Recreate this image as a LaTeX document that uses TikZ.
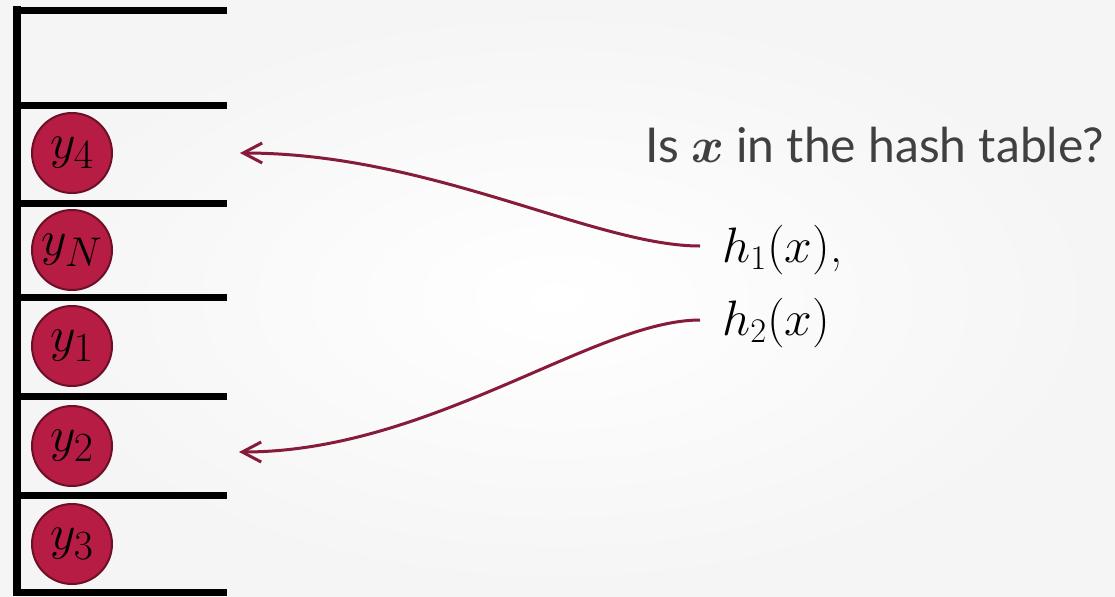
\documentclass[tikz,border=0pt]{standalone}
\usepackage{amsmath,bm}
\usepackage{fontspec}
\setsansfont{Lato}
\usetikzlibrary{arrows.meta}
\definecolor{cellfill}{HTML}{B71C45}
\definecolor{celledge}{HTML}{6B1027}
\definecolor{arrowc}{HTML}{861B3A}
\definecolor{txtgray}{HTML}{404040}
\begin{document}
\begin{tikzpicture}[x=0.5pt,y=-0.5pt,
  shelf/.style={line width=3.5pt, black},
  item/.style={circle, minimum size=40pt, inner sep=0pt, fill=cellfill, draw=celledge, line width=1pt,
    font=\fontsize{28}{30}\selectfont},
  hlabel/.style={anchor=base west, inner sep=0pt, font=\fontsize{24}{28}\selectfont},
  ptr/.style={arrowc, line width=1.5pt, -{Straight Barb[length=9.5pt,width=10pt,line width=1.5pt]}}]
\shade[inner color=white, outer color=black!4] (0,0) rectangle (1115,596);
\useasboundingbox (0,0) rectangle (1115,596);
% table
\draw[line width=4pt, black] (17,6) -- (17,596);
\foreach \yy in {10.5,105.5,203,297,396.5,495.5,592}
  \draw[shelf] (13,\yy) -- (227,\yy);
% items
\node[item] (y4) at (72,153) {$y_4$};
\node[item] (yN) at (72,250) {$y_N$};
\node[item] (y1) at (72,346) {$y_1$};
\node[item] (y2) at (72,446) {$y_2$};
\node[item] (y3) at (72,544) {$y_3$};
% question
\node[anchor=base west, inner sep=0pt, text=txtgray, font=\sffamily\fontsize{24}{28}\selectfont]
  (q) at (645,162) {Is $\bm{x}$ in the hash table?};
% hash labels
\node[hlabel] (h1) at (722,262) {$h_1(x)$,};
\node[hlabel] (h2) at (722,335) {$h_2(x)$};
% pointer ends
\coordinate (s1) at (700,246);
\coordinate (s2) at (700,320);
\coordinate (t1) at (240,153);
\coordinate (t2) at (239,452);
\draw[ptr] (s1) .. controls (595,246) and (430,153) .. (t1);
\draw[ptr] (s2) .. controls (595,320) and (430,452) .. (t2);
\end{tikzpicture}
\end{document}
